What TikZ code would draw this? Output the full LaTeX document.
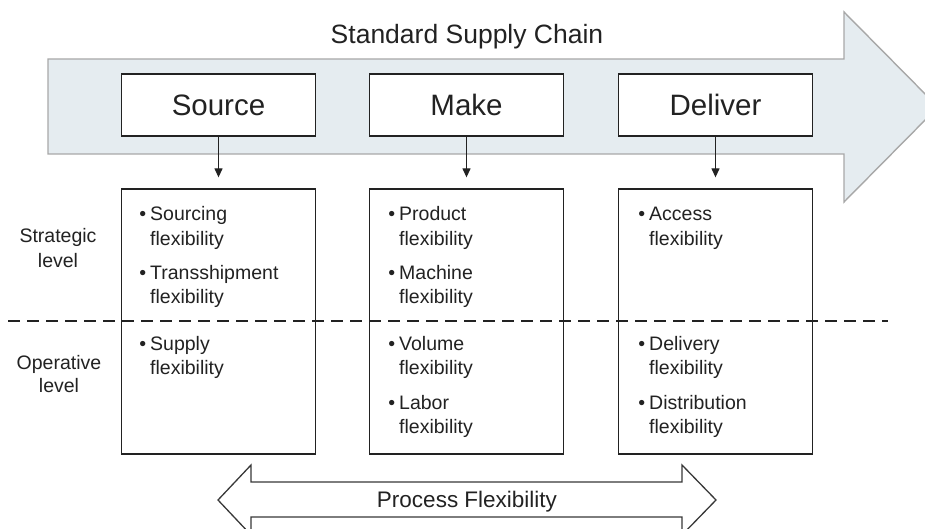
\documentclass[tikz,border=0pt]{standalone}
\usepackage{fontspec}
\setmainfont{Liberation Sans}
\usetikzlibrary{arrows.meta}
\definecolor{chainfill}{HTML}{E5ECF0}
\definecolor{chainline}{HTML}{A8A8A8}
\definecolor{ink}{HTML}{222222}
\begin{document}
\begin{tikzpicture}[x=1pt,y=-1pt,
  stagebox/.style={draw=ink, line width=1.3pt, fill=white, minimum width=194pt, minimum height=62pt, inner sep=0pt, text=ink, font=\fontsize{29.5}{34}\selectfont},
  detailbox/.style={draw=ink, line width=1.3pt, fill=white, minimum width=194pt, minimum height=265pt, inner sep=0pt},
  txt/.style={anchor=base west, inner sep=0pt, text=ink, font=\fontsize{19.5}{24}\selectfont},
  lbl/.style={anchor=base, inner sep=0pt, text=ink, font=\fontsize{19.5}{24}\selectfont},
  conn/.style={draw=ink, line width=1.2pt, -{Triangle[length=9pt,width=8pt]}, shorten >=11pt},
]
\useasboundingbox (0,0) rectangle (925,529);
% big supply chain arrow
\path[fill=chainfill, draw=chainline, line width=1.4pt]
  (48,59) -- (844,59) -- (844,12) -- (938,107) -- (844,202) -- (844,154) -- (48,154) -- cycle;
\node[anchor=base, inner sep=0pt, text=ink, font=\fontsize{26.5}{30}\selectfont] (title) at (467,44) {Standard Supply Chain};
% stage boxes
\node[stagebox] (src) at (218.5,105) {Source};
\node[stagebox] (mak) at (466.5,105) {Make};
\node[stagebox] (del) at (715.5,105) {Deliver};
% detail boxes
\node[detailbox] (srcd) at (218.5,321.5) {};
\node[detailbox] (makd) at (466.5,321.5) {};
\node[detailbox] (deld) at (715.5,321.5) {};
% connectors
\draw[conn] (src.south) -- (srcd.north);
\draw[conn] (mak.south) -- (makd.north);
\draw[conn] (del.south) -- (deld.north);
% dashed level separator
\coordinate (dashL) at (8,321);
\coordinate (dashR) at (888,321);
\draw[draw=ink, line width=1.3pt, dash pattern=on 12pt off 7pt] (dashL) -- (dashR);
% level labels
\node[lbl] (strat1) at (58,243) {Strategic};
\node[lbl] (strat2) at (58,267) {level};
\node[lbl] (oper1) at (59,369) {Operative};
\node[lbl] (oper2) at (59,392) {level};
% source items
\node[txt] (s1a) at (150,221) {\llap{\textbullet\hspace{4pt}}Sourcing};
\node[txt] (s1b) at (150,245) {flexibility};
\node[txt] (s2a) at (150,279) {\llap{\textbullet\hspace{4pt}}Transshipment};
\node[txt] (s2b) at (150,303) {flexibility};
\node[txt] (s3a) at (150,350) {\llap{\textbullet\hspace{4pt}}Supply};
\node[txt] (s3b) at (150,374) {flexibility};
% make items
\node[txt] (m1a) at (399,221) {\llap{\textbullet\hspace{4pt}}Product};
\node[txt] (m1b) at (399,245) {flexibility};
\node[txt] (m2a) at (399,279) {\llap{\textbullet\hspace{4pt}}Machine};
\node[txt] (m2b) at (399,303) {flexibility};
\node[txt] (m3a) at (399,350) {\llap{\textbullet\hspace{4pt}}Volume};
\node[txt] (m3b) at (399,374) {flexibility};
\node[txt] (m4a) at (399,409) {\llap{\textbullet\hspace{4pt}}Labor};
\node[txt] (m4b) at (399,433) {flexibility};
% deliver items
\node[txt] (d1a) at (649,221) {\llap{\textbullet\hspace{4pt}}Access};
\node[txt] (d1b) at (649,245) {flexibility};
\node[txt] (d3a) at (649,350) {\llap{\textbullet\hspace{4pt}}Delivery};
\node[txt] (d3b) at (649,374) {flexibility};
\node[txt] (d4a) at (649,409) {\llap{\textbullet\hspace{4pt}}Distribution};
\node[txt] (d4b) at (649,433) {flexibility};
% process flexibility double arrow
\path[fill=white, draw=ink!90, line width=1.3pt]
  (218,500) -- (251,465) -- (251,482) -- (682,482) -- (682,465) -- (716,500)
  -- (682,535) -- (682,517) -- (251,517) -- (251,535) -- cycle;
\node[anchor=base, inner sep=0pt, text=ink, font=\fontsize{22.5}{26}\selectfont] (procflex) at (467,507) {Process Flexibility};
\end{tikzpicture}
\end{document}
